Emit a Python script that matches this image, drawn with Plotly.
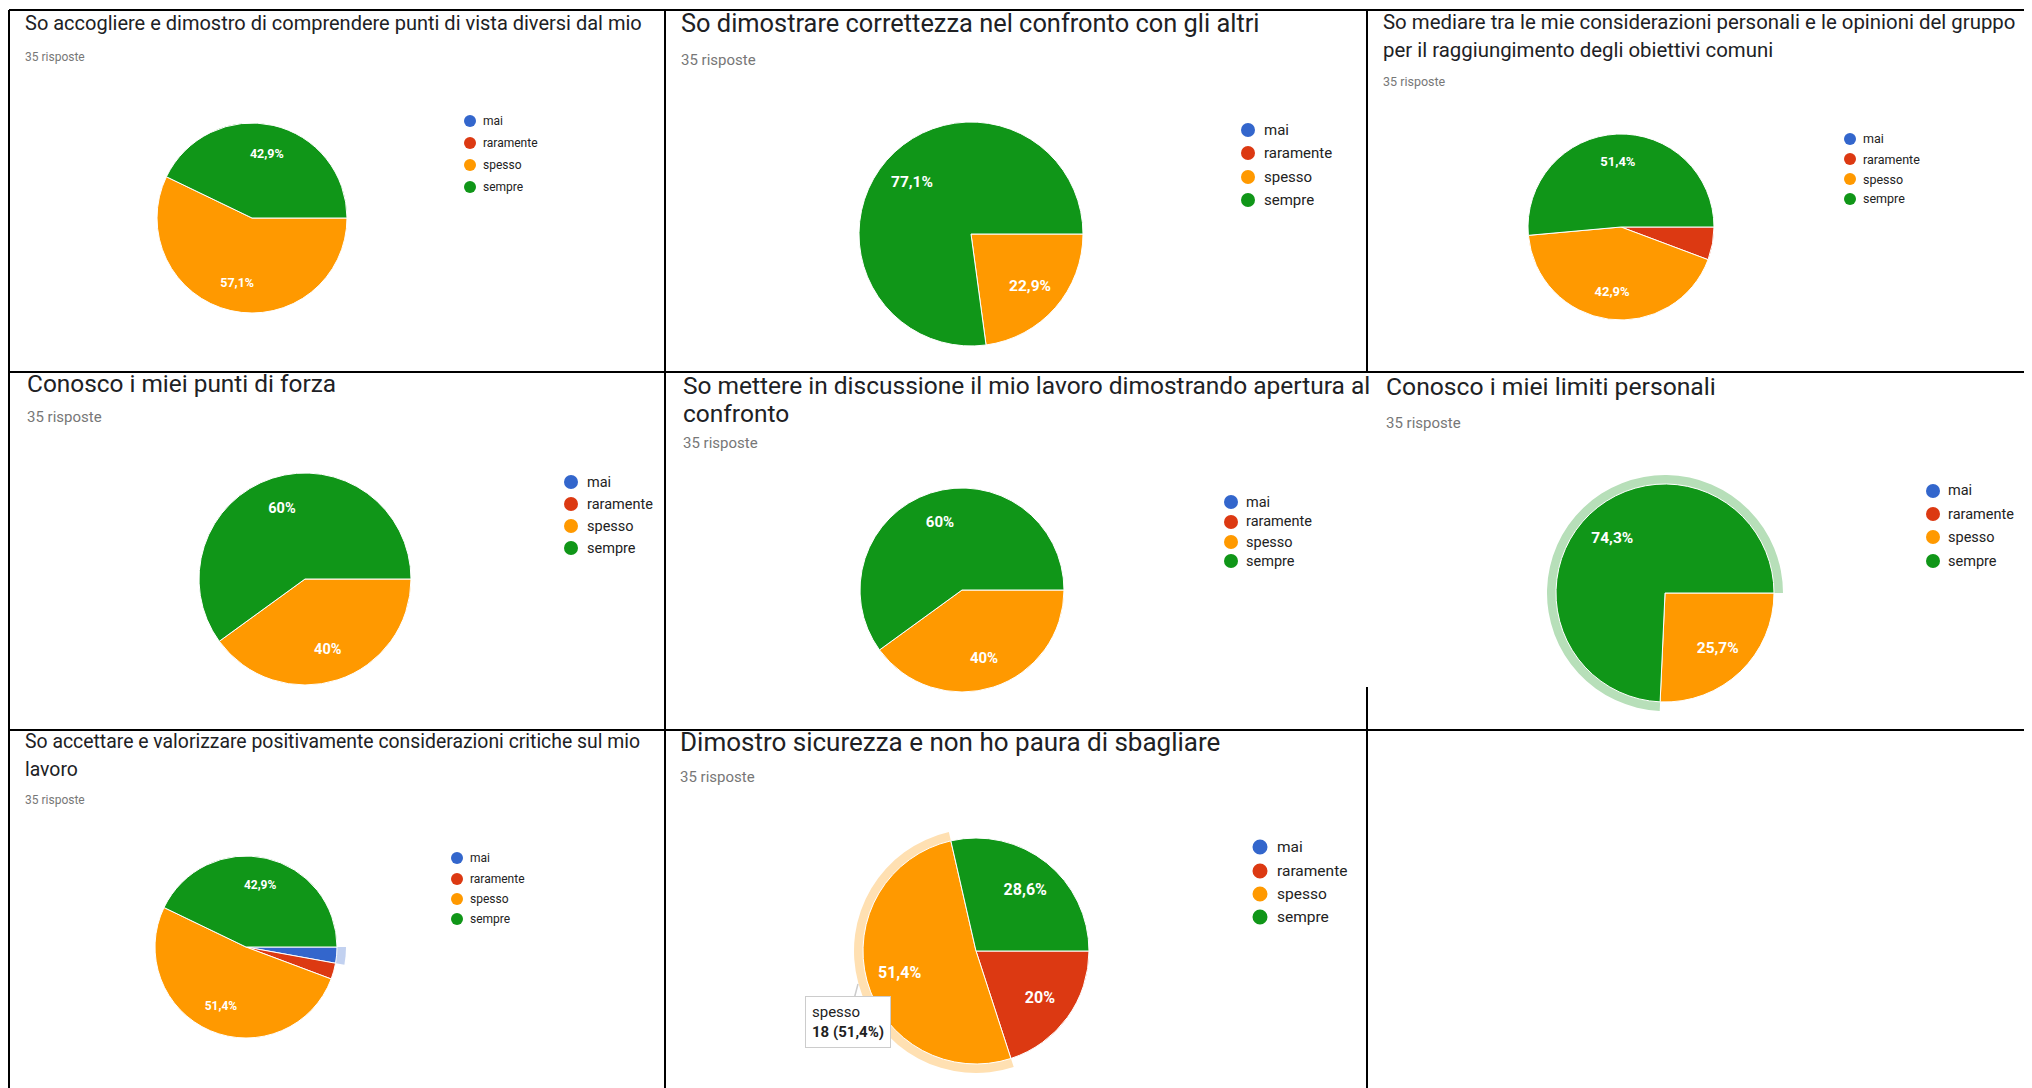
import plotly.graph_objects as go

W, H = 2032, 1088
OFF = 8                      # default page body margin of the html page
FW, FH = W - OFF, H - OFF    # figure size so that the page fits the window

# ---------------- data ----------------
categories = ["mai", "raramente", "spesso", "sempre"]
colors = ["#3366CC", "#DC3912", "#FF9900", "#109618"]
highlight_colors = ["#C2D1F0", "#F5C4B8", "#FFE0B2", "#B7DFB9"]

titles = [
    ["So accogliere e dimostro di comprendere punti di vista diversi dal mio"],
    ["So dimostrare correttezza nel confronto con gli altri"],
    ["So mediare tra le mie considerazioni personali e le opinioni del gruppo",
     "per il raggiungimento degli obiettivi comuni"],
    ["Conosco i miei punti di forza"],
    ["So mettere in discussione il mio lavoro dimostrando apertura al", "confronto"],
    ["Conosco i miei limiti personali"],
    ["So accettare e valorizzare positivamente considerazioni critiche sul mio", "lavoro"],
    ["Dimostro sicurezza e non ho paura di sbagliare"],
]

# counts per category (mai, raramente, spesso, sempre), 35 responses each
counts_q1 = [0, 0, 20, 15]
counts_q2 = [0, 0, 8, 27]
counts_q3 = [0, 2, 15, 18]
counts_q4 = [0, 0, 14, 21]
counts_q5 = [0, 0, 14, 21]
counts_q6 = [0, 0, 9, 26]
counts_q7 = [1, 1, 18, 15]
counts_q8 = [0, 7, 18, 10]
series = [counts_q1, counts_q2, counts_q3, counts_q4,
          counts_q5, counts_q6, counts_q7, counts_q8]

highlighted = [None, None, None, None, None, "sempre", "mai", "spesso"]
tooltip_category = [None, None, None, None, None, None, None, "spesso"]

# ---------------- layout (page pixels) ----------------
panels = [
    dict(tx=23, ty=[23], ts=20, sy=57, ss=12, cx=252, cy=218, r=95,
         lx=470, ly=[121, 143, 165, 187], ltx=481, lsz=12, dot=12, psz=12.5),
    dict(tx=679, ty=[23], ts=25.4, sy=60, ss=15, cx=971, cy=234, r=112,
         lx=1248, ly=[130, 153, 177, 200], ltx=1262, lsz=15, dot=14, psz=15.5),
    dict(tx=1381, ty=[22, 50], ts=20.4, sy=81, ss=12.5, cx=1621, cy=227, r=93,
         lx=1850, ly=[139, 159, 179, 199], ltx=1861, lsz=12.5, dot=12, psz=13),
    dict(tx=25, ty=[383], ts=24.4, sy=417, ss=15, cx=305, cy=579, r=106,
         lx=571, ly=[482, 504, 526, 548], ltx=585, lsz=14.5, dot=14, psz=14.5),
    dict(tx=681, ty=[385, 413], ts=24.5, sy=443, ss=15, cx=962, cy=590, r=102,
         lx=1231, ly=[502, 522, 542, 561], ltx=1244, lsz=14.5, dot=14, psz=15),
    dict(tx=1384, ty=[387], ts=24.7, sy=423, ss=15, cx=1665, cy=593, r=109,
         lx=1933, ly=[491, 514, 537, 561], ltx=1946, lsz=14.5, dot=14, psz=15.5),
    dict(tx=23, ty=[741, 769], ts=19.4, sy=800, ss=12, cx=246, cy=947, r=91,
         lx=457, ly=[858, 879, 899, 919], ltx=468, lsz=12, dot=12, psz=12),
    dict(tx=678, ty=[742], ts=26, sy=777, ss=15, cx=976, cy=951, r=113,
         lx=1260, ly=[847, 871, 894, 917], ltx=1275, lsz=15.5, dot=15, psz=16),
]
ring_width = 9
FONT = "Roboto, Arial, sans-serif"


def X(px):
    return (px - OFF) / FW


def Y(py):
    return 1 - (py - OFF) / FH


def pct_text(v, total):
    s = f"{v / total * 100:.1f}".rstrip("0").rstrip(".")
    return s.replace(".", ",") + "%"


def domain(cx, cy, r):
    return dict(x=[X(cx - r), X(cx + r)], y=[Y(cy + r), Y(cy - r)])


fig = go.Figure()
annotations = []
shapes = []

for i, (vals, p) in enumerate(zip(series, panels)):
    total = sum(vals)
    common = dict(labels=categories, values=vals, sort=False, direction="clockwise",
                  rotation=90, showlegend=False)

    # highlight ring (behind)
    if highlighted[i] is not None:
        k = categories.index(highlighted[i])
        ring_cols = ["rgba(0,0,0,0)"] * len(categories)
        ring_cols[k] = highlight_colors[k]
        fig.add_trace(go.Pie(**common, domain=domain(p["cx"], p["cy"], p["r"] + ring_width),
                             marker=dict(colors=ring_cols, line=dict(width=0)),
                             textinfo="none", hoverinfo="skip"))

    # main pie
    fig.add_trace(go.Pie(**common, domain=domain(p["cx"], p["cy"], p["r"]),
                         marker=dict(colors=colors, line=dict(color="white", width=1)),
                         textinfo="none", hoverinfo="label+value+percent"))

    # slice labels (placed at ~0.7 r through a transparent ring)
    labels_txt = [pct_text(v, total) if v / total >= 0.1 else "" for v in vals]
    fig.add_trace(go.Pie(**common, domain=domain(p["cx"], p["cy"], p["r"]), hole=0.4,
                         marker=dict(colors=["rgba(0,0,0,0)"] * 4, line=dict(width=0)),
                         text=labels_txt, textinfo="text", textposition="inside",
                         insidetextorientation="horizontal",
                         insidetextfont=dict(color="white", size=p["psz"], family=FONT,
                                             weight="bold"),
                         hoverinfo="skip"))

    # title lines
    for line, ty in zip(titles[i], p["ty"]):
        annotations.append(dict(x=X(p["tx"]), y=Y(ty), xref="paper", yref="paper",
                                xanchor="left", yanchor="middle", showarrow=False,
                                text=line, font=dict(family=FONT, size=p["ts"], color="#202124")))
    # responses count
    annotations.append(dict(x=X(p["tx"]), y=Y(p["sy"]), xref="paper", yref="paper",
                            xanchor="left", yanchor="middle", showarrow=False,
                            text=f"{total} risposte",
                            font=dict(family=FONT, size=p["ss"], color="#777777")))
    # legend
    for cat, col, ly in zip(categories, colors, p["ly"]):
        d = p["dot"] / 2
        shapes.append(dict(type="circle", xref="paper", yref="paper",
                           xsizemode="pixel", ysizemode="pixel",
                           xanchor=X(p["lx"]), yanchor=Y(ly),
                           x0=-d, x1=d, y0=-d, y1=d,
                           fillcolor=col, line=dict(width=0)))
        annotations.append(dict(x=X(p["ltx"]), y=Y(ly), xref="paper", yref="paper",
                                xanchor="left", yanchor="middle", showarrow=False,
                                text=cat, font=dict(family=FONT, size=p["lsz"], color="#222222")))

    # tooltip
    if tooltip_category[i] is not None:
        k = categories.index(tooltip_category[i])
        v = vals[k]
        annotations.append(dict(x=X(858), y=Y(984), xref="paper", yref="paper",
                                ax=-10, ay=38, showarrow=True, arrowhead=0,
                                arrowcolor="#CCCCCC", arrowwidth=1.5,
                                text=f"{categories[k]}<br><b>{v} ({pct_text(v, total)})</b>",
                                align="left", bgcolor="white", bordercolor="#CCCCCC",
                                borderwidth=1, borderpad=6,
                                font=dict(family=FONT, size=15, color="#222222")))

# grid lines of the collage
grid = [
    (9, 10, 2032, 10),
    (9, 372, 2032, 372),
    (9, 730, 2032, 730),
    (9, 10, 9, 1088),
    (665, 10, 665, 1088),
    (1367, 10, 1367, 372),
    (1367, 687, 1367, 1088),
]
for x0, y0, x1, y1 in grid:
    shapes.append(dict(type="line", xref="paper", yref="paper",
                       x0=X(x0), y0=Y(y0), x1=X(x1), y1=Y(y1),
                       line=dict(color="black", width=2)))

fig.update_layout(width=FW, height=FH, autosize=False,
                  margin=dict(l=0, r=0, t=0, b=0),
                  paper_bgcolor="white", plot_bgcolor="white",
                  annotations=annotations, shapes=shapes,
                  font=dict(family=FONT))

fig.write_html("out.html")
